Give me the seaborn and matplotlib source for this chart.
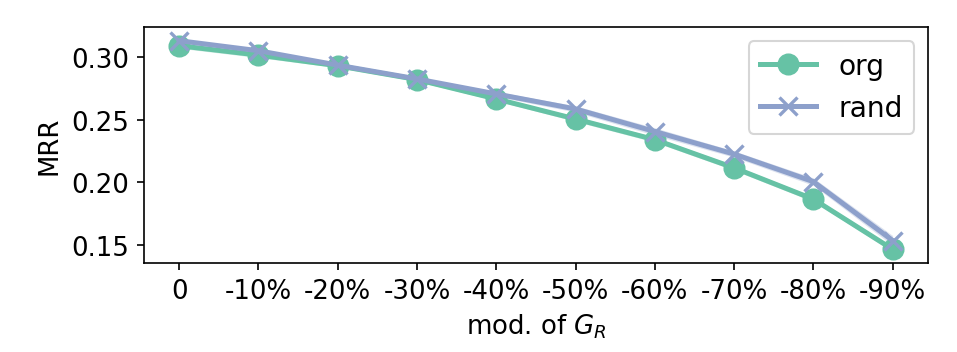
import numpy as np
import pandas as pd
import seaborn as sns
from matplotlib import pyplot as plt

# x categories (modification of G_R)
mods = ["0", "-10%", "-20%", "-30%", "-40%", "-50%", "-60%", "-70%", "-80%", "-90%"]

# mean MRR per series
org_mrr = [0.309, 0.3015, 0.293, 0.282, 0.2665, 0.2505, 0.234, 0.2115, 0.1865, 0.1465]
rand_mrr = [0.313, 0.305, 0.2935, 0.2825, 0.2705, 0.2585, 0.2405, 0.2225, 0.2005, 0.1535]

# band half-widths (spread over runs)
org_err = [0.002, 0.002, 0.0015, 0.0015, 0.0015, 0.002, 0.002, 0.002, 0.002, 0.002]
rand_err = [0.0015, 0.0015, 0.0015, 0.0015, 0.002, 0.0025, 0.003, 0.0025, 0.003, 0.004]

palette = sns.color_palette("Set2")
c_org, c_rand = palette[0], palette[2]

plt.rcParams["font.size"] = 12.5
fig, ax = plt.subplots(figsize=(6.38, 2.353), dpi=150)
fig.subplots_adjust(left=0.150, right=0.970, top=0.921, bottom=0.252)

for name, vals, err, col, mk in [
    ("org", org_mrr, org_err, c_org, "o"),
    ("rand", rand_mrr, rand_err, c_rand, "x"),
]:
    vals = np.array(vals)
    err = np.array(err)
    ax.fill_between(mods, vals - err, vals + err, color=col, alpha=0.3, lw=0)
    sns.lineplot(
        x=mods, y=vals, ax=ax, color=col, marker=mk, markersize=9,
        markeredgecolor=col, markeredgewidth=1.6, linewidth=2.4, label=name,
    )

ax.set_ylim(0.1355, 0.324)
ax.set_yticks([0.15, 0.20, 0.25, 0.30])
ax.set_ylabel("MRR")
ax.set_xlabel("mod. of $G_R$")
ax.legend(loc="upper right", fontsize=13.5)

fig.savefig("out.png", dpi=150)
